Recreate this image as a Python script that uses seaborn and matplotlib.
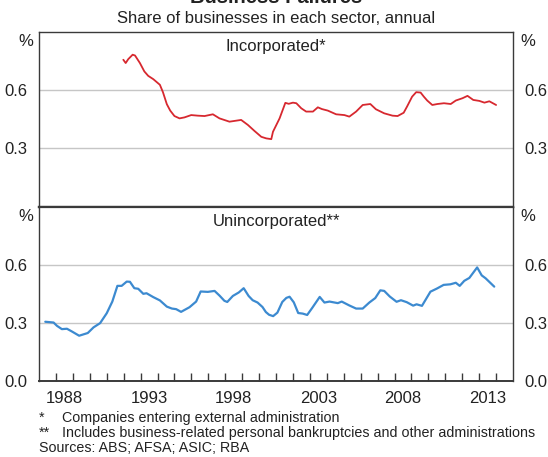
import matplotlib
matplotlib.use("Agg")
import matplotlib.pyplot as plt
import seaborn as sns
import pandas as pd

# incorporated (companies), monthly-ish readings
inc_year = [1991.98, 1992.12, 1992.27, 1992.53, 1992.67, 1992.96, 1993.22, 1993.45, 1993.75,
            1994.14, 1994.32, 1994.55, 1994.75, 1995.00, 1995.30, 1995.59, 1995.99, 1996.38,
            1996.78, 1997.27, 1997.66, 1998.25, 1998.94, 1999.34, 1999.73, 2000.13, 2000.42,
            2000.72, 2000.82, 2001.21, 2001.55, 2001.75, 2002.00, 2002.20, 2002.49, 2002.78,
            2003.18, 2003.47, 2003.71, 2004.06, 2004.55, 2005.04, 2005.33, 2005.73, 2006.12,
            2006.57, 2006.90, 2007.39, 2007.88, 2008.18, 2008.54, 2008.74, 2009.04, 2009.28,
            2009.54, 2009.73, 2009.93, 2010.23, 2010.53, 2010.92, 2011.32, 2011.62, 2012.02,
            2012.31, 2012.65, 2013.01, 2013.31, 2013.60, 2014.00]
inc_share = [0.757, 0.740, 0.760, 0.783, 0.779, 0.740, 0.697, 0.674, 0.657,
             0.628, 0.590, 0.528, 0.495, 0.467, 0.455, 0.460, 0.472, 0.469,
             0.467, 0.476, 0.455, 0.438, 0.447, 0.421, 0.390, 0.360, 0.352,
             0.348, 0.386, 0.455, 0.535, 0.530, 0.536, 0.533, 0.507, 0.490,
             0.490, 0.512, 0.503, 0.495, 0.476, 0.472, 0.464, 0.490, 0.524,
             0.529, 0.502, 0.481, 0.469, 0.467, 0.484, 0.516, 0.567, 0.590,
             0.588, 0.567, 0.547, 0.524, 0.529, 0.533, 0.529, 0.547, 0.559,
             0.571, 0.550, 0.545, 0.536, 0.543, 0.524]

# unincorporated, quarterly-ish readings
uninc_year = [1987.37, 1987.86, 1988.06, 1988.35, 1988.65, 1988.94, 1989.37, 1989.88, 1990.22,
              1990.61, 1991.00, 1991.33, 1991.63, 1991.88, 1992.18, 1992.37, 1992.63, 1992.86,
              1993.16, 1993.35, 1993.75, 1994.14, 1994.55, 1994.85, 1995.10, 1995.39, 1995.89,
              1996.28, 1996.55, 1996.97, 1997.37, 1997.66, 1997.95, 1998.12, 1998.45, 1998.80,
              1999.09, 1999.38, 1999.62, 1999.91, 2000.20, 2000.40, 2000.59, 2000.83, 2001.08,
              2001.37, 2001.61, 2001.80, 2002.05, 2002.31, 2002.58, 2002.84, 2003.15, 2003.58,
              2003.86, 2004.16, 2004.65, 2004.88, 2005.33, 2005.73, 2006.12, 2006.51, 2006.86,
              2007.16, 2007.39, 2007.72, 2008.12, 2008.38, 2008.72, 2009.10, 2009.30, 2009.62,
              2010.12, 2010.50, 2010.90, 2011.30, 2011.62, 2011.85, 2012.12, 2012.42, 2012.88,
              2013.15, 2013.38, 2013.89]
uninc_share = [0.307, 0.303, 0.286, 0.269, 0.271, 0.257, 0.235, 0.249, 0.278,
               0.300, 0.351, 0.411, 0.492, 0.492, 0.514, 0.513, 0.480, 0.477,
               0.451, 0.454, 0.434, 0.417, 0.385, 0.375, 0.372, 0.358, 0.382,
               0.411, 0.463, 0.461, 0.466, 0.442, 0.415, 0.409, 0.440, 0.458,
               0.480, 0.440, 0.418, 0.406, 0.383, 0.357, 0.343, 0.336, 0.354,
               0.409, 0.430, 0.436, 0.407, 0.352, 0.349, 0.342, 0.380, 0.435,
               0.406, 0.411, 0.403, 0.411, 0.391, 0.375, 0.375, 0.406, 0.429,
               0.469, 0.466, 0.437, 0.410, 0.418, 0.408, 0.390, 0.397, 0.389,
               0.462, 0.478, 0.497, 0.500, 0.508, 0.492, 0.518, 0.533, 0.587,
               0.546, 0.531, 0.488]

panel_titles = ["Incorporated*", "Unincorporated**"]
year_labels = [1988, 1993, 1998, 2003, 2008, 2013]

inc = pd.DataFrame({"year": inc_year, "share": inc_share})
uninc = pd.DataFrame({"year": uninc_year, "share": uninc_share})

sns.set_style("white")
plt.rcParams["font.family"] = ["Liberation Sans", "DejaVu Sans"]

fig = plt.figure(figsize=(5.48, 4.57), dpi=100)
ax1 = fig.add_axes([0.0712, 0.5477, 0.865, 0.3823])
ax2 = fig.add_axes([0.0712, 0.1656, 0.865, 0.3821])

sns.lineplot(data=inc, x="year", y="share", ax=ax1, color="#d7282f", lw=1.3)
sns.lineplot(data=uninc, x="year", y="share", ax=ax2, color="#3c8ad0", lw=1.6)

for ax, title in zip([ax1, ax2], panel_titles):
    ax.set_xlim(1987, 2015)
    ax.set_ylim(0, 0.9)
    ax.set_xlabel("")
    ax.set_ylabel("")
    ax.yaxis.grid(True, color="#c6c6c6", lw=1)
    ax.xaxis.grid(False)
    ax.set_axisbelow(True)
    for s in ax.spines.values():
        s.set_color("#3a3a3a")
        s.set_linewidth(1.0)
    ax.tick_params(axis="y", left=False, right=False, labelleft=True, labelright=True,
                   labelsize=12, pad=5, colors="#222222")
    ax.text(0.5, 0.915, title, transform=ax.transAxes, ha="center", va="center",
            fontsize=12, color="#222222")
    ax.text(-0.0274, 0.945, "%", transform=ax.transAxes, ha="center", va="center",
            fontsize=12, color="#222222")
    ax.text(1.0316, 0.945, "%", transform=ax.transAxes, ha="center", va="center",
            fontsize=12, color="#222222")

ax1.set_yticks([0.3, 0.6])
ax1.set_yticklabels(["0.3", "0.6"])
ax2.set_yticks([0.0, 0.3, 0.6])
ax2.set_yticklabels(["0.0", "0.3", "0.6"])

ax1.tick_params(axis="x", bottom=False, labelbottom=False)
ax1.spines["bottom"].set_linewidth(1.6)
ax2.spines["top"].set_linewidth(1.6)
ax2.spines["bottom"].set_linewidth(1.4)

ax2.set_xticks(range(1988, 2015))
ax2.set_xticklabels([])
ax2.set_xticks([y + 0.5 for y in year_labels], minor=True)
ax2.set_xticklabels([str(y) for y in year_labels], minor=True)
ax2.tick_params(axis="x", which="major", direction="in", length=6, width=1,
                color="#3a3a3a", bottom=True)
ax2.tick_params(axis="x", which="minor", length=0, labelsize=12, pad=7, colors="#222222")

fig.text(0.504, 0.9935, "Business Failures", ha="center", va="baseline",
         fontsize=14.5, fontweight="bold", color="#222222")
fig.text(0.504, 0.950, "Share of businesses in each sector, annual", ha="center",
         va="baseline", fontsize=12, color="#222222")

fs = 10.3
fig.text(0.0703, 0.0853, "*", ha="left", va="center", fontsize=fs, color="#222222")
fig.text(0.113, 0.0853, "Companies entering external administration", ha="left",
         va="center", fontsize=fs, color="#222222")
fig.text(0.0703, 0.0525, "**", ha="left", va="center", fontsize=fs, color="#222222")
fig.text(0.113, 0.0525, "Includes business-related personal bankruptcies and other administrations",
         ha="left", va="center", fontsize=fs, color="#222222")
fig.text(0.0703, 0.0197, "Sources: ABS; AFSA; ASIC; RBA", ha="left", va="center",
         fontsize=fs, color="#222222")

fig.savefig("out.png", dpi=100)
